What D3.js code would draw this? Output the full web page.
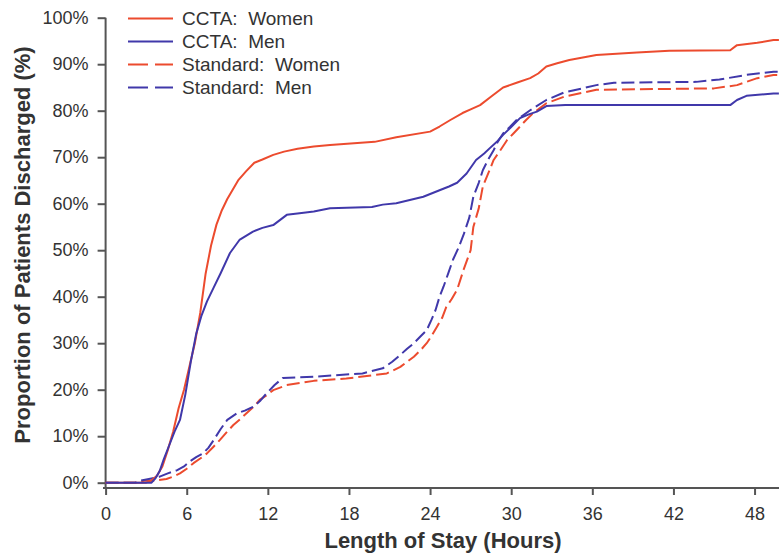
<!DOCTYPE html>
<html>
<head>
<meta charset="utf-8">
<script src="https://cdn.jsdelivr.net/npm/d3@7"></script>
<style>
  body { margin: 0; background: #fff; }
  text { font-family: "Liberation Sans", Arial, sans-serif; fill: #333; }
</style>
</head>
<body>
<div id="chart"></div>
<script>
var svgWidth = 779;
var svgHeight = 556;

// Tick values
var xTicks = [0, 6, 12, 18, 24, 30, 36, 42, 48];
var yTicks = [0, 10, 20, 30, 40, 50, 60, 70, 80, 90, 100];

// Series (hours, percent discharged)
var cctaWomenH = [0, 3.0, 3.4, 3.8, 4.2, 4.6, 5.0, 5.4, 5.8, 6.2, 6.6, 7.0, 7.4, 7.8, 8.2, 8.6, 9.0, 9.4, 9.8, 10.4, 11.0, 11.6, 12.4, 13.2, 14.2, 15.4, 16.6, 19.9, 21.5, 24.0, 24.7, 25.5, 26.4, 27.0, 27.7, 28.5, 29.4, 30.4, 31.4, 32.0, 32.6, 33.4, 34.3, 35.2, 36.3, 39.3, 41.7, 46.2, 46.7, 48.2, 49.4, 49.8];
var cctaWomenP = [0, 0, 0.5, 1.5, 3.5, 7, 11, 16, 20, 25, 30, 36.5, 45, 51, 55.5, 58.6, 61, 63, 65, 67, 68.8, 69.5, 70.5, 71.2, 71.8, 72.3, 72.6, 73.3, 74.3, 75.5, 76.6, 78, 79.5, 80.3, 81.2, 83, 85, 86, 87, 88, 89.5, 90.2, 90.9, 91.4, 92, 92.5, 92.9, 93, 94.1, 94.6, 95.2, 95.2];

var cctaMenH = [0, 3.4, 3.7, 4.0, 4.3, 4.7, 5.1, 5.5, 5.9, 6.3, 6.7, 7.1, 7.5, 8.0, 8.5, 9.2, 9.9, 10.9, 11.6, 12.4, 13.4, 14.5, 15.4, 16.6, 19.7, 20.5, 21.5, 22.5, 23.5, 24.7, 25.4, 26.0, 26.7, 27.4, 28.0, 28.4, 29.0, 29.4, 30.0, 30.65, 31.3, 31.9, 32.6, 34.0, 46.2, 46.7, 47.4, 49.4, 49.8];
var cctaMenP = [0, 0, 1, 2.5, 5, 8, 11, 13.5, 19, 26, 32, 36, 39, 42, 45, 49.4, 52.2, 54, 54.8, 55.4, 57.6, 58, 58.3, 59, 59.3, 59.8, 60.1, 60.8, 61.5, 62.9, 63.7, 64.5, 66.5, 69.4, 70.8, 71.9, 73.5, 74.8, 76.5, 78.4, 79.2, 79.8, 81, 81.2, 81.2, 82.3, 83.2, 83.7, 83.7];

var stdWomenH = [0, 2.5, 2.8, 3.5, 4.5, 5.0, 5.5, 6.0, 6.5, 7.0, 7.5, 8.0, 8.46, 9.0, 9.45, 10.0, 10.4, 11.0, 11.4, 12.0, 12.4, 13.4, 15.4, 17.8, 20.8, 21.8, 22.3, 22.8, 23.3, 23.75, 24.1, 24.5, 24.9, 25.2, 25.6, 26.0, 26.5, 27.0, 27.2, 27.6, 27.9, 28.3, 28.7, 29.2, 29.7, 30.2, 30.65, 31.1, 31.6, 32.1, 32.6, 33.9, 36.3, 45.0, 46.7, 48.2, 49.4, 49.8];
var stdWomenP = [0, 0, 0.4, 0.4, 0.8, 1.3, 2, 3, 4.2, 5.2, 6.3, 7.8, 9.2, 11, 12.4, 13.8, 14.9, 16.5, 17.8, 19, 19.9, 21, 21.9, 22.4, 23.5, 24.9, 26, 27.1, 28.5, 30, 31.5, 33.5, 35.5, 37.8, 39.5, 41.5, 46, 50, 55, 59, 63.7, 66.5, 69.4, 71.5, 73.7, 75.2, 76.6, 78, 79.4, 80.5, 81.6, 83, 84.5, 84.8, 85.5, 87, 87.7, 87.7];

var stdMenH = [0, 2.2, 2.5, 3.2, 4.0, 4.6, 5.3, 5.8, 6.2, 6.7, 7.2, 7.6, 8.0, 8.5, 9.0, 9.7, 10.3, 10.9, 11.4, 11.9, 12.5, 13.1, 15.4, 19.0, 20.5, 21.2, 21.8, 22.3, 22.8, 23.3, 23.75, 24.1, 24.4, 24.7, 25.0, 25.4, 25.7, 26.1, 26.5, 26.9, 27.2, 27.6, 27.9, 28.3, 28.7, 29.0, 29.4, 29.9, 30.4, 31.4, 32.6, 33.9, 36.3, 37.6, 43.7, 45.4, 47.4, 49.4, 49.8];
var stdMenP = [0, 0, 0.4, 0.8, 1.3, 2, 2.7, 3.5, 4.5, 5.5, 6.3, 7.5, 9.2, 11.5, 13.5, 14.9, 15.5, 16.3, 17.5, 19.2, 21, 22.5, 22.8, 23.5, 24.6, 26, 27.5, 28.8, 30, 31.5, 32.8, 35, 37.1, 40, 42.2, 45.5, 48, 50.5, 53.5, 57, 61.5, 64.5, 67.2, 69.5, 71.5, 73.3, 75.1, 76.5, 78, 80.1, 82.3, 83.9, 85.5, 86, 86.2, 86.7, 87.7, 88.4, 88.4];

var red = "#ec4b2e";
var blue = "#4038aa";

var series = [
  { name: "Standard:  Women", h: stdWomenH, p: stdWomenP, color: red, dash: "13,5" },
  { name: "Standard:  Men", h: stdMenH, p: stdMenP, color: blue, dash: "13,5" },
  { name: "CCTA:  Women", h: cctaWomenH, p: cctaWomenP, color: red, dash: null },
  { name: "CCTA:  Men", h: cctaMenH, p: cctaMenP, color: blue, dash: null }
];
var legendOrder = [2, 3, 0, 1];

var svg = d3.select("#chart")
  .append("svg")
  .attr("width", svgWidth)
  .attr("height", svgHeight);

var xScale = d3.scaleLinear()
  .domain([0, 50])
  .range([105.6, 781.6]);

var yScale = d3.scaleLinear()
  .domain([0, 100])
  .range([482.7, 17.7]);

var axisY0 = 488;

// x axis
var xAxis = svg.append("g")
  .attr("transform", `translate(0, ${axisY0})`)
  .call(d3.axisBottom(xScale).tickValues(xTicks).tickSize(7).tickPadding(12).tickFormat(d3.format("d")));
xAxis.select(".domain").remove();
xAxis.selectAll(".tick line").attr("stroke", "#555").attr("stroke-width", 2);
xAxis.selectAll(".tick text").attr("font-size", 18).attr("fill", "#333");
svg.append("line")
  .attr("x1", 103).attr("x2", svgWidth)
  .attr("y1", axisY0).attr("y2", axisY0)
  .attr("stroke", "#555").attr("stroke-width", 2);

// y axis
var yAxis = svg.append("g")
  .attr("transform", `translate(${xScale(0)}, 0)`)
  .call(d3.axisLeft(yScale).tickValues(yTicks).tickSize(8).tickPadding(9).tickFormat(d => d + "%"));
yAxis.select(".domain").remove();
yAxis.selectAll(".tick line").attr("stroke", "#555").attr("stroke-width", 2);
yAxis.selectAll(".tick text").attr("font-size", 18).attr("fill", "#333");
svg.append("line")
  .attr("x1", xScale(0)).attr("x2", xScale(0))
  .attr("y1", yScale(100)).attr("y2", axisY0 + 1)
  .attr("stroke", "#555").attr("stroke-width", 2);

// curves
var line = d3.line()
  .x(d => xScale(d[0]))
  .y(d => yScale(d[1]));

series.forEach(function(s) {
  var pts = s.h.map((h, i) => [h, s.p[i]]);
  svg.append("path")
    .datum(pts)
    .attr("fill", "none")
    .attr("stroke", s.color)
    .attr("stroke-width", 2)
    .attr("stroke-linejoin", "round")
    .attr("stroke-dasharray", s.dash)
    .attr("d", line);
});

// legend
var legend = svg.append("g");
legendOrder.forEach(function(idx, i) {
  var s = series[idx];
  var y = 18.5 + i * 23;
  legend.append("line")
    .attr("x1", 128).attr("x2", 173)
    .attr("y1", y).attr("y2", y)
    .attr("stroke", s.color)
    .attr("stroke-width", 2)
    .attr("stroke-dasharray", s.dash ? "20,7" : null);
  legend.append("text")
    .attr("x", 182)
    .attr("y", y + 6.5)
    .attr("font-size", 19)
    .style("white-space", "pre")
    .text(s.name);
});

// axis labels
svg.append("text")
  .attr("x", 443)
  .attr("y", 548)
  .attr("text-anchor", "middle")
  .attr("font-size", 22)
  .attr("font-weight", "bold")
  .text("Length of Stay (Hours)");

svg.append("text")
  .attr("transform", "translate(30, 245) rotate(-90)")
  .attr("text-anchor", "middle")
  .attr("font-size", 22)
  .attr("font-weight", "bold")
  .text("Proportion of Patients Discharged (%)");
</script>
</body>
</html>
